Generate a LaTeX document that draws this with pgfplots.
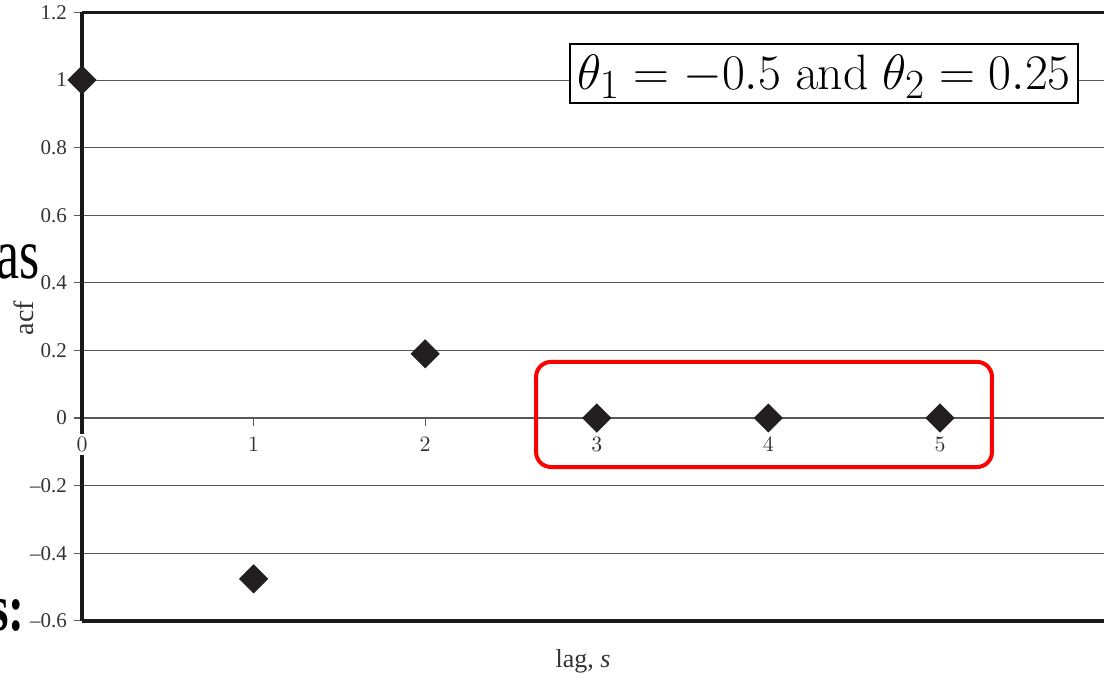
\documentclass[border=0pt]{standalone}
\usepackage[no-math]{fontspec}
\setmainfont{Liberation Serif}
\newfontfamily\bgfont[FakeStretch=0.72]{Liberation Serif}
\usepackage{pgfplots}
\pgfplotsset{compat=1.18}
\definecolor{mk}{HTML}{231F20}
\begin{document}
\begin{tikzpicture}
\useasboundingbox (0pt,0pt) rectangle (552pt,-340.5pt);
\clip (0pt,0pt) rectangle (552pt,-340.5pt);
\node[anchor=base east, font=\bgfont\fontsize{36}{40}\selectfont, inner sep=0pt] at (20pt,-139pt) {as};
\node[anchor=base east, font=\bgfont\fontsize{33}{38}\selectfont\bfseries, inner sep=0pt] at (12.5pt,-315pt) {s:};
\begin{axis}[
  at={(41pt,-310.4pt)}, anchor=south west,
  scale only axis, width=531.96pt, height=304.2pt,
  xmin=0, xmax=6.2, ymin=-0.6, ymax=1.2,
  axis x line=middle, axis y line=left,
  x axis line style={-, black!65, line width=0.6pt},
  y axis line style={-, black!90, line width=1.6pt},
  clip=false,
  hide obscured x ticks=false, hide obscured y ticks=false,
  xtick={0,1,2,3,4,5},
  ytick={-0.6,-0.4,-0.2,0,0.2,0.4,0.6,0.8,1,1.2},
  yticklabels={–0.6,–0.4,–0.2,0,0.2,0.4,0.6,0.8,1,1.2},
  tick align=outside, major tick length=4pt,
  tick style={black!65, line width=0.6pt},
  tick label style={font=\fontsize{10.5}{12}\selectfont, text=black!80},
  xticklabel style={fill=white, inner sep=1.5pt, yshift=-4pt},
  ymajorgrids, grid style={black!65, line width=0.5pt},
  xlabel={lag, \textit{s}},
  ylabel={acf},
  xlabel style={at={(axis cs:2.92,-0.72)}, anchor=center, font=\fontsize{13}{15}\selectfont, text=black!80},
  ylabel style={at={(axis cs:-0.338,0.296)}, anchor=center, font=\fontsize{14}{16}\selectfont, text=black!80},
  legend style={at={(axis cs:4.324,1.019)}, anchor=center, draw=black, line width=1pt, fill=white,
    font=\fontsize{27.5}{31}\selectfont, inner xsep=1.5pt, inner ysep=3.5pt},
]
\addplot[only marks, mark=square*, mark size=4.95pt, mark options={rotate=45, fill=mk, draw=mk}, forget plot]
  coordinates {(0,1) (1,-0.476) (2,0.190) (3,0) (4,0) (5,0)};
\addlegendimage{empty legend}
\addlegendentry{$\theta_1 = -0.5\ \mathrm{and}\ \theta_2 = 0.25$}
\draw[line width=1.5pt, black!90] (rel axis cs:0,1) -- (rel axis cs:1,1);
\draw[line width=2pt, black!90] (rel axis cs:0,0) -- (rel axis cs:1,0);
\draw[red, line width=2pt, rounded corners=7.5pt] (axis cs:2.646,0.166) rectangle (axis cs:5.303,-0.145);
\end{axis}
\end{tikzpicture}
\end{document}
